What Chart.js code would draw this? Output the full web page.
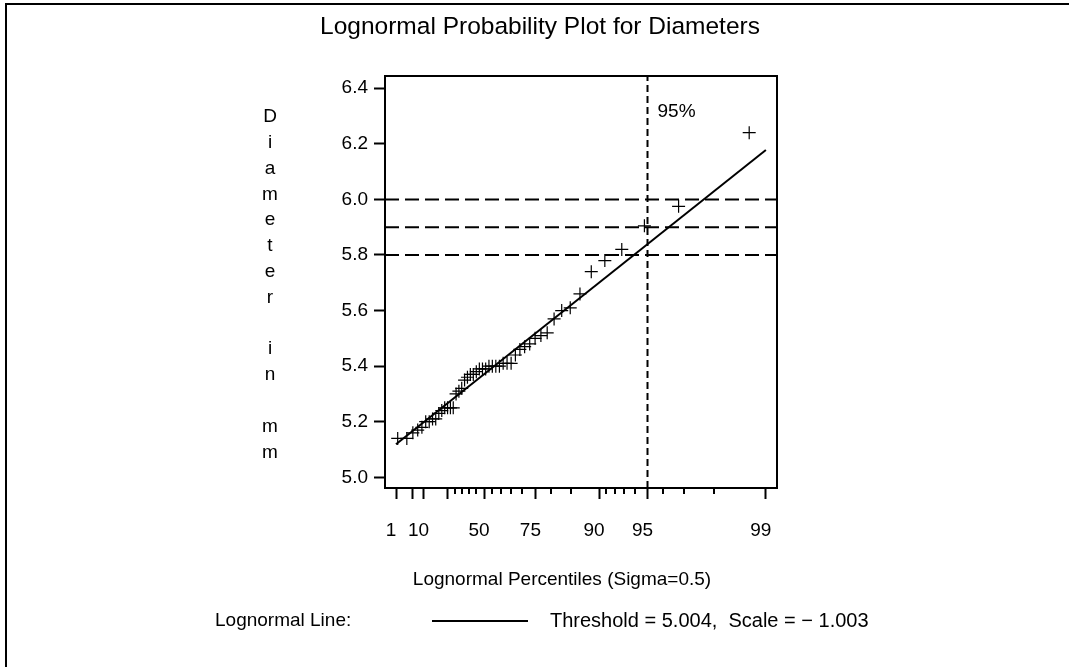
<!DOCTYPE html>
<html><head><meta charset="utf-8">
<script src="https://cdn.jsdelivr.net/npm/chart.js@4.4.1/dist/chart.umd.min.js"></script>
<style>html,body{margin:0;padding:0;background:#fff;}canvas{display:block}</style>
</head><body>
<canvas id="c" width="1069" height="667"></canvas>
<script>
// ---- data ----
const diameters = [5.14,5.14,5.16,5.17,5.18,5.20,5.20,5.21,5.21,5.23,
                   5.24,5.25,5.25,5.25,5.25,5.30,5.31,5.32,5.35,5.36,
                   5.37,5.37,5.38,5.39,5.39,5.39,5.40,5.40,5.40,5.40,
                   5.41,5.41,5.41,5.44,5.46,5.47,5.48,5.50,5.51,5.52,
                   5.57,5.60,5.61,5.66,5.74,5.78,5.82,5.905,5.975,6.24];
const sigma = 0.5;
const threshold = 5.004;
const scaleParam = -1.003;
const xTickLabels = [1,10,50,75,90,95,99];
const xMajorTicks = [1,5,10,25,50,75,90,95,99];
const xMinorTicks = [30,35,40,45,55,60,65,70,80,85,91,92,93,94,96,97,98];
const yTicks = [5.0,5.2,5.4,5.6,5.8,6.0,6.2,6.4];
const refLevels = [5.8,5.9,6.0];
const refPercent = 95;
const fitRange = [1,99];

// ---- probability scale transform ----
function probit(p){
  const a=[-3.969683028665376e+01,2.209460984245205e+02,-2.759285104469687e+02,1.383577518672690e+02,-3.066479806614716e+01,2.506628277459239e+00];
  const b=[-5.447609879822406e+01,1.615858368580409e+02,-1.556989798598866e+02,6.680131188771972e+01,-1.328068155288572e+01];
  const c=[-7.784894002430293e-03,-3.223964580411365e-01,-2.400758277161838e+00,-2.549732539343734e+00,4.374664141464968e+00,2.938163982698783e+00];
  const d=[7.784695709041462e-03,3.224671290700398e-01,2.445134137142996e+00,3.754408661907416e+00];
  const pl=0.02425, ph=1-pl; let q,r;
  if(p<pl){q=Math.sqrt(-2*Math.log(p));return (((((c[0]*q+c[1])*q+c[2])*q+c[3])*q+c[4])*q+c[5])/((((d[0]*q+d[1])*q+d[2])*q+d[3])*q+1);}
  if(p<=ph){q=p-0.5;r=q*q;return (((((a[0]*r+a[1])*r+a[2])*r+a[3])*r+a[4])*r+a[5])*q/(((((b[0]*r+b[1])*r+b[2])*r+b[3])*r+b[4])*r+1);}
  q=Math.sqrt(-2*Math.log(1-p));return -(((((c[0]*q+c[1])*q+c[2])*q+c[3])*q+c[4])*q+c[5])/((((d[0]*q+d[1])*q+d[2])*q+d[3])*q+1);
}
const pctToX = pct => Math.exp(sigma*probit(pct/100));
const X_MIN = 0.2266, X_MAX = 3.287, Y_MIN = 4.9615, Y_MAX = 6.444;

const n = diameters.length;
const points = diameters.map((d,i)=>({x:pctToX(100*(i+1-0.375)/(n+0.25)), y:d}));
const fitLine = fitRange.map(p=>({x:pctToX(p), y:threshold+Math.exp(scaleParam)*pctToX(p)}));

const FONT = "'Liberation Sans', Arial, Helvetica, sans-serif";
const refSets = refLevels.map(L=>({
  type:'line', data:[{x:X_MIN,y:L},{x:X_MAX,y:L}], borderColor:'#000', borderWidth:2,
  borderDash:[14,6], pointRadius:0, fill:false
}));
const vref = {type:'line', data:[{x:pctToX(refPercent),y:Y_MIN},{x:pctToX(refPercent),y:Y_MAX}],
  borderColor:'#000', borderWidth:2, borderDash:[7,4], pointRadius:0, fill:false};

const decor = {
  id:'decor',
  afterDraw(chart){
    const ctx = chart.ctx, a = chart.chartArea, xs = chart.scales.x;
    ctx.save();
    ctx.strokeStyle='#000'; ctx.lineWidth=2;
    ctx.strokeRect(a.left, a.top, a.right-a.left, a.bottom-a.top);
    // outer frame (left and top)
    ctx.beginPath(); ctx.moveTo(6,667); ctx.lineTo(6,4); ctx.lineTo(1069,4); ctx.stroke();
    // minor x ticks
    xMinorTicks.forEach(p=>{const px=Math.round(xs.getPixelForValue(pctToX(p)));
      ctx.beginPath(); ctx.moveTo(px,a.bottom); ctx.lineTo(px,a.bottom+6); ctx.stroke();});
    ctx.fillStyle='#000';
    ctx.textBaseline='middle';
    // title
    ctx.font='24.5px '+FONT; ctx.textAlign='center';
    ctx.fillText('Lognormal Probability Plot for Diameters', 540, 27);
    // 95% label
    ctx.font='19px '+FONT; ctx.textAlign='left';
    ctx.fillText(refPercent+'%', xs.getPixelForValue(pctToX(refPercent))+10, 112);
    // y title stacked
    ctx.textAlign='center';
    const yt='Diameter in mm';
    for(let i=0;i<yt.length;i++){ ctx.fillText(yt[i], 270, 117+i*25.8); }
    // x title
    ctx.fillText('Lognormal Percentiles (Sigma=0.5)', 562, 580);
    // legend
    ctx.textAlign='left';
    ctx.fillText('Lognormal Line:', 215, 621);
    ctx.beginPath(); ctx.moveTo(432,621); ctx.lineTo(528,621); ctx.stroke();
    ctx.font='20px '+FONT;
    ctx.fillText('Threshold = 5.004,  Scale = \u2212 1.003', 550, 621);
    ctx.restore();
  }
};

new Chart(document.getElementById('c'), {
  type:'scatter',
  data:{datasets:[
    {data:points, pointStyle:'cross', pointRadius:6.5, pointBorderWidth:1.2, borderColor:'#000', backgroundColor:'#000', showLine:false},
    {type:'line', data:fitLine, borderColor:'#000', borderWidth:2, pointRadius:0, fill:false},
    ...refSets, vref
  ]},
  options:{
    responsive:false, animation:false, devicePixelRatio:1,
    layout:{padding:{left:385-70, top:76, right:1069-777, bottom:667-488-60}},
    plugins:{legend:{display:false}, tooltip:{enabled:false}},
    scales:{
      x:{type:'linear', min:X_MIN, max:X_MAX,
        afterFit(s){s.height=60;},
        afterBuildTicks(s){s.ticks = xMajorTicks.map(p=>({value:pctToX(p)}));},
        border:{display:false},
        grid:{drawOnChartArea:false, tickLength:11, tickWidth:2, tickColor:'#000'},
        ticks:{color:'#000', font:{family:FONT,size:19}, padding:20, labelOffset:-5, maxRotation:0, autoSkip:false,
          callback(v,i){ const p=xMajorTicks[i]; return xTickLabels.includes(p)? String(p):''; }}
      },
      y:{type:'linear', min:Y_MIN, max:Y_MAX,
        afterFit(s){s.width=70;},
        afterBuildTicks(s){s.ticks = yTicks.map(v=>({value:v}));},
        border:{display:false},
        grid:{drawOnChartArea:false, tickLength:11, tickWidth:2, tickColor:'#000'},
        ticks:{color:'#000', font:{family:FONT,size:19}, padding:6, autoSkip:false,
          callback(v){ return Number(v).toFixed(1); }}
      }
    }
  },
  plugins:[decor]
});
</script>
</body></html>
